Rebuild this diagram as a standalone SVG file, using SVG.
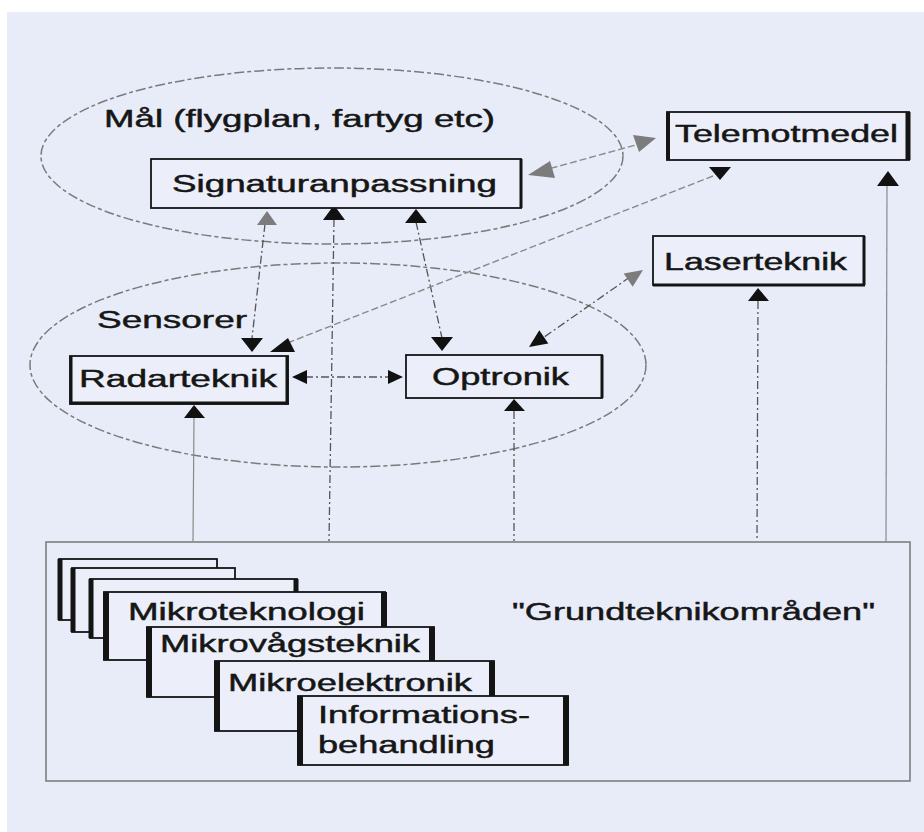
<svg xmlns="http://www.w3.org/2000/svg" width="924" height="832" viewBox="0 0 924 832">
<style>
.t{font-family:"Liberation Sans",Arial,sans-serif;font-size:23px;fill:#161616;stroke:#161616;stroke-width:0.45}
.ell{fill:none;stroke:#7a7a7a;stroke-width:1.5;stroke-dasharray:10 3 4 3}
.box{fill:#eceff9;stroke:#141414;stroke-width:1.8}
.thk{fill:none;stroke:#141414}
.dk{fill:none;stroke:#555;stroke-width:1.3;stroke-dasharray:8 3 2 3}
.gr{fill:none;stroke:#8a8a8a;stroke-width:1.4;stroke-dasharray:7 3}
.sl{fill:none;stroke:#8a8a8a;stroke-width:1.2}
.ab{fill:#111}
.ag{fill:#7c7c7c}
</style>
<rect x="0" y="0" width="924" height="832" fill="#ffffff"/>
<rect x="7" y="12" width="917" height="820" fill="#e8ecf8"/>

<g id="mal">
<ellipse class="ell" cx="332" cy="156" rx="291" ry="88"/>
<text class="t" x="104" y="127" font-size="24" textLength="391" lengthAdjust="spacingAndGlyphs">Mål (flygplan, fartyg etc)</text>
</g>
<g id="sensorer">
<ellipse class="ell" cx="338" cy="365" rx="308" ry="102"/>
<text class="t" x="97" y="328" textLength="150" lengthAdjust="spacingAndGlyphs">Sensorer</text>
</g>
<g id="grund">
<rect x="46" y="542" width="864" height="239" fill="none" stroke="#777" stroke-width="1.5"/>
<text class="t" x="512" y="620" textLength="363" lengthAdjust="spacingAndGlyphs">"Grundteknikområden"</text>
</g>

<g id="connectors">
<path class="dk" d="M265,224 L252,338"/>
<path class="dk" d="M334,219 L329,541"/>
<path class="dk" d="M416,222 L442,338"/>
<path class="gr" d="M541,171 L643,143"/>
<path class="gr" d="M713,176 L290,342"/>
<path class="dk" d="M630,277 L540,340"/>
<path class="dk" stroke="#222" d="M305,377 L390,377"/>
<path class="sl" d="M194,418 L193,541"/>
<path class="dk" d="M514,411 L514,541"/>
<path class="dk" d="M758,301 L757,541"/>
<path class="sl" d="M887,185 L886,541"/>
<polygon class="ag" points="267,211 257,225 277,225"/>
<polygon class="ab" points="334,205 323,220 345,220"/>
<polygon class="ab" points="416,209 405,223 427,223"/>
<polygon class="ag" points="528,175 550,161 555,178"/>
<polygon class="ag" points="656,138 633,135 639,152"/>
<polygon class="ab" points="720,180 709,167 731,167"/>
<polygon class="ab" points="888,171 877,186 899,186"/>
<polygon class="ab" points="758,288 748,301 769,301"/>
<polygon class="ag" points="643,270 632.7,286.8 623.7,273.6"/>
<polygon class="ab" points="529,347 548.3,343.4 539.3,330.2"/>
<polygon class="ab" points="252,352 241,338 263,338"/>
<polygon class="ab" points="288,338 270,352 295,352"/>
<polygon class="ab" points="442,351 431,337 453,337"/>
<polygon class="ab" points="292,377 307,370 307,384"/>
<polygon class="ab" points="403,377 388,370 388,384"/>
<polygon class="ab" points="194,405 184,418 205,418"/>
<polygon class="ab" points="514,399 504,411 525,411"/>
</g>

<g id="signaturanpassning">
<rect class="box" x="151" y="159" width="370" height="49"/>
<path class="thk" stroke-width="3" d="M521,159 V208"/>
<text class="t" x="172" y="192" textLength="325" lengthAdjust="spacingAndGlyphs">Signaturanpassning</text>
</g>
<g id="telemotmedel">
<rect class="box" x="667" y="112" width="242" height="48"/>
<path class="thk" stroke-width="4" d="M668,112 V160"/>
<path class="thk" stroke-width="5" d="M908,112 V160"/>
<text class="t" x="675" y="142" textLength="223" lengthAdjust="spacingAndGlyphs">Telemotmedel</text>
</g>
<g id="laserteknik">
<rect class="box" x="653" y="236" width="211" height="49"/>
<path class="thk" stroke-width="3" d="M864,236 V285 M653,285 H865"/>
<text class="t" x="664" y="270" textLength="183" lengthAdjust="spacingAndGlyphs">Laserteknik</text>
</g>
<g id="radarteknik">
<rect class="box" x="70" y="356" width="218" height="48"/>
<path class="thk" stroke-width="3" d="M71,356 V404 M287,356 V404 M70,403 H289"/>
<text class="t" x="79" y="387" textLength="198" lengthAdjust="spacingAndGlyphs">Radarteknik</text>
</g>
<g id="optronik">
<rect class="box" x="406" y="355" width="196" height="43"/>
<path class="thk" stroke-width="3" d="M602,355 V398"/>
<text class="t" x="432" y="385" textLength="137" lengthAdjust="spacingAndGlyphs">Optronik</text>
</g>

<g id="stack-a">
<rect class="box" x="59" y="559" width="158" height="61"/>
<path class="thk" stroke-width="5" d="M60,559 V620"/>
</g>
<g id="stack-b">
<rect class="box" x="72" y="568" width="163" height="64"/>
<path class="thk" stroke-width="5" d="M73,568 V632"/>
</g>
<g id="stack-c">
<rect class="box" x="90" y="579" width="207" height="59"/>
<path class="thk" stroke-width="5" d="M91,579 V638 M296,579 V638"/>
</g>
<g id="mikroteknologi">
<rect class="box" x="104" y="592" width="281" height="68"/>
<path class="thk" stroke-width="6" d="M106,592 V660 M384,592 V660"/>
<text class="t" x="128" y="620" textLength="237" lengthAdjust="spacingAndGlyphs">Mikroteknologi</text>
</g>
<g id="mikrovagsteknik">
<rect class="box" x="147" y="627" width="287" height="70"/>
<path class="thk" stroke-width="6" d="M149,627 V697 M432,627 V697"/>
<text class="t" x="160" y="652" textLength="260" lengthAdjust="spacingAndGlyphs">Mikrovågsteknik</text>
</g>
<g id="mikroelektronik">
<rect class="box" x="215" y="661" width="279" height="70"/>
<path class="thk" stroke-width="6" d="M217,661 V731 M492,661 V731"/>
<text class="t" x="228" y="691" textLength="244" lengthAdjust="spacingAndGlyphs">Mikroelektronik</text>
</g>
<g id="informationsbehandling">
<rect class="box" x="298" y="696" width="270" height="69"/>
<path class="thk" stroke-width="6" d="M300,696 V765 M566,696 V765"/>
<text class="t" x="318" y="723" textLength="212" lengthAdjust="spacingAndGlyphs">Informations-</text>
<text class="t" x="318" y="753" textLength="177" lengthAdjust="spacingAndGlyphs">behandling</text>
</g>
</svg>
